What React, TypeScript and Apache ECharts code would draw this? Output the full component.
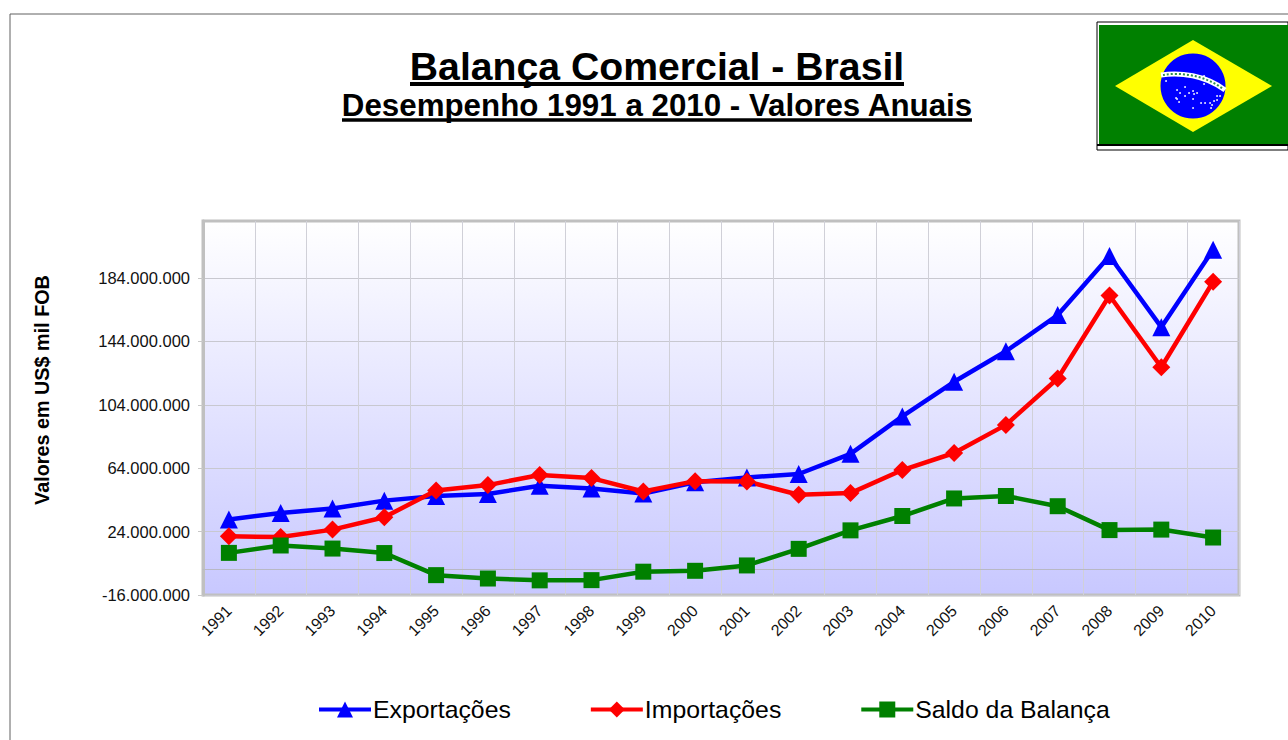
import React, { useEffect, useRef } from "react";
import * as echarts from "echarts";

const years = ["1991","1992","1993","1994","1995","1996","1997","1998","1999","2000","2001","2002","2003","2004","2005","2006","2007","2008","2009","2010"];
const exportacoes = [31620000,35790000,38550000,43550000,46510000,47750000,52990000,51140000,48010000,55090000,58220000,60360000,73080000,96680000,118530000,137810000,160650000,197940000,152990000,201920000];
const importacoes = [21040000,20550000,25260000,33080000,49970000,53350000,59750000,57760000,49300000,55850000,55600000,47240000,48290000,62840000,73610000,91350000,120620000,172980000,127720000,181650000];
const saldo = [10580000,15240000,13300000,10470000,-3470000,-5600000,-6760000,-6620000,-1290000,-730000,2650000,13120000,24790000,33840000,44920000,46460000,40030000,24960000,25270000,20270000];
const yTicks = [-16000000,24000000,64000000,104000000,144000000,184000000];
const stars: [number, number][] = [[1166,81],[1180,93],[1177,90],[1185,87],[1176,98],[1177,99],[1185,96],[1179,102],[1193,91],[1197,93],[1193,99],[1189,93],[1194,94],[1201,103],[1205,103],[1210,103],[1212,105],[1211,108],[1214,101],[1217,100],[1217,96],[1220,96],[1204,84],[1204,76],[1193,108]];

const fmt = (v: number) => String(v).replace(/\B(?=(\d{3})+(?!\d))/g, ".");
const FONT = "'Liberation Sans', Arial, sans-serif";

export default function App() {
  const ref = useRef<HTMLDivElement>(null);
  useEffect(() => {
    document.body.style.margin = "0";
    document.body.style.overflow = "hidden";
    const chart = echarts.init(ref.current!, null, { renderer: "svg" });
    const line = (x1: number, y1: number, x2: number, y2: number, stroke: string, lineWidth: number) => ({
      type: "line", silent: true, shape: { x1, y1, x2, y2 }, style: { stroke, lineWidth },
    });
    chart.setOption({
      animation: false,
      backgroundColor: "#ffffff",
      textStyle: { fontFamily: FONT },
      title: [
        { text: "Balança Comercial - Brasil", left: 657, top: 47, textAlign: "center", padding: 0,
          textStyle: { fontFamily: FONT, fontSize: 39.2, fontWeight: "bold", color: "#000" } },
        { text: "Desempenho 1991 a 2010 - Valores Anuais", left: 657, top: 90, textAlign: "center", padding: 0,
          textStyle: { fontFamily: FONT, fontSize: 31.3, fontWeight: "bold", color: "#000" } },
      ],
      legend: {
        left: 317, top: 697, padding: 0, itemWidth: 52, itemHeight: 20, itemGap: 78,
        textStyle: { fontFamily: FONT, fontSize: 24.8, color: "#000", padding: [0, 0, 0, -3] },
        data: [
          { name: "Exportações", lineStyle: { width: 4, color: "#0000ff" } },
          { name: "Importações", lineStyle: { width: 4, color: "#ff0000" } },
          { name: "Saldo da Balança", lineStyle: { width: 4, color: "#008000" } },
        ],
      },
      grid: {
        left: 203, top: 221, width: 1036, height: 374, show: true, borderColor: "#c0c0c0", borderWidth: 3,
        backgroundColor: { type: "linear", x: 0, y: 0, x2: 0, y2: 1,
          colorStops: [{ offset: 0, color: "#ffffff" }, { offset: 1, color: "#c8c8ff" }] },
      },
      xAxis: {
        type: "category", data: years, boundaryGap: true,
        axisLine: { onZero: true, lineStyle: { color: "#b8b8c4", width: 1 } },
        axisTick: { show: false },
        splitLine: { show: true, lineStyle: { color: "#d0d0d8", width: 1 } },
        axisLabel: { interval: 0, rotate: 45, fontSize: 16, color: "#111", margin: 13, fontFamily: FONT },
      },
      yAxis: {
        type: "value", min: -16000000, max: 220000000,
        name: "Valores em US$ mil FOB", nameLocation: "middle", nameGap: 151, nameRotate: 90,
        nameTextStyle: { fontFamily: FONT, fontSize: 19.8, fontWeight: "bold", color: "#000", padding: [0, 0, 0, 36] },
        axisLine: { show: true, lineStyle: { color: "#c0c0c0", width: 3 } },
        axisTick: { show: true, length: 5, customValues: yTicks, lineStyle: { color: "#c8c8c8", width: 1 } },
        splitLine: { show: true, lineStyle: { color: "#c8c8d0", width: 1 } },
        axisLabel: { customValues: yTicks, formatter: (v: number) => fmt(v), fontSize: 16.5, color: "#111", margin: 13, fontFamily: FONT },
      },
      series: [
        { name: "Exportações", type: "line", data: exportacoes, symbol: "triangle", symbolSize: 18,
          lineStyle: { color: "#0000ff", width: 4.5 }, itemStyle: { color: "#0000ff" } },
        { name: "Importações", type: "line", data: importacoes, symbol: "diamond", symbolSize: 18,
          lineStyle: { color: "#ff0000", width: 4.5 }, itemStyle: { color: "#ff0000" } },
        { name: "Saldo da Balança", type: "line", data: saldo, symbol: "rect", symbolSize: 16,
          lineStyle: { color: "#008000", width: 4.5 }, itemStyle: { color: "#008000" } },
      ],
      graphic: [
        line(10, 14, 1288, 14, "#606060", 1),
        line(10, 14, 10, 740, "#606060", 1),
        line(410, 84, 904, 84, "#000", 4),
        line(342, 120, 972, 120, "#000", 3.5),
        { type: "rect", shape: { x: 1097, y: 22, width: 191, height: 128 }, style: { fill: "#fff", stroke: "#000", lineWidth: 1 } },
        { type: "rect", shape: { x: 1099, y: 25, width: 189, height: 119 }, style: { fill: "#008000" } },
        line(1097, 145, 1288, 145, "#000", 2),
        { type: "polygon", shape: { points: [[1193, 40], [1272, 86], [1193, 132], [1115, 86]] }, style: { fill: "#ffff00" } },
        { type: "circle", shape: { cx: 1193, cy: 86, r: 32.5 }, style: { fill: "#0000ff" } },
        { type: "bezierCurve", shape: { x1: 1161, y1: 75, cpx1: 1180, cpy1: 72, cpx2: 1205, cpy2: 75, x2: 1225, y2: 90 }, style: { stroke: "#fff", lineWidth: 5, fill: "none" } },
        { type: "bezierCurve", shape: { x1: 1163, y1: 75, cpx1: 1180, cpy1: 72, cpx2: 1205, cpy2: 75, x2: 1223, y2: 89 }, style: { stroke: "#2f8f4f", lineWidth: 2, lineDash: [2, 2], fill: "none" } },
        ...stars.map(([cx, cy]) => ({ type: "circle", shape: { cx, cy, r: 0.9 }, style: { fill: "#fff" } })),
      ],
    });
    return () => chart.dispose();
  }, []);
  return <div ref={ref} style={{ width: 1288, height: 740 }} />;
}
